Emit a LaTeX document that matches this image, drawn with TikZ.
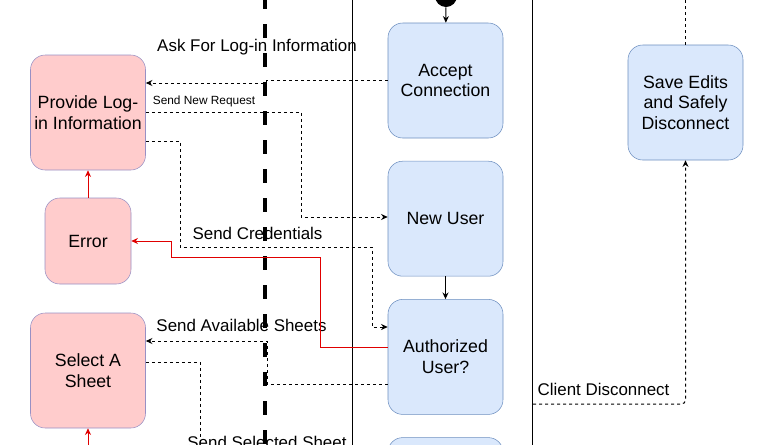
\documentclass[tikz,border=0pt]{standalone}
\usepackage{fontspec}
\setmainfont{Liberation Sans}
\usetikzlibrary{arrows.meta,positioning}
\definecolor{Blush}{HTML}{FFCCCC}
\definecolor{Lilac}{HTML}{9890C4}
\definecolor{Sky}{HTML}{DAE8FC}
\definecolor{Steel}{HTML}{6C8EBF}
\definecolor{Alarm}{HTML}{E00000}

\begin{document}
\begin{tikzpicture}[x=.75pt,y=-.75pt,node distance=17pt,
client/.style={draw=Lilac,fill=Blush,rounded corners=11pt,align=center,minimum width=86.25pt,minimum height=86.25pt,inner sep=2pt,font=\fontsize{13.3}{15.5}\selectfont},
server/.style={client,draw=Steel,fill=Sky},
note/.style={inner sep=0pt,font=\fontsize{12.7}{15}\selectfont},
flow/.style={-{Stealth[length=5pt,width=4.5pt]},line width=.75pt},
msg/.style={flow,dash pattern=on 2.25pt off 2.25pt},
alarm/.style={flow,draw=Alarm,color=Alarm}]
\clip (0,0) rectangle (774,444);
% lanes
\draw[line width=3.4pt,dash pattern=on 10.5pt off 11.25pt] (265,-5) -- (265,460);
\draw[line width=.75pt] (352,-5) -- (352,460);
\draw[line width=.75pt] (532,-5) -- (532,460);
% client side
\node[client](provide) at (88,112.5){Provide Log-\\in Information};
\node[client,minimum width=64.5pt,minimum height=64.5pt](error) at (88,241){Error};
\node[client](select) at (88,370.5){Select A\\Sheet};
% server side
\node[circle,fill=black,minimum size=16.5pt,inner sep=0pt](start) at (446,-4){};
\node[server](accept) at (445.5,80.5){Accept\\Connection};
\node[server,below=of accept](newuser){New User};
\node[server,below=of newuser](authorized){Authorized\\User?};
\node[server,below=of authorized](nextstep){};
\node[server](save) at (685.5,102.5){Save Edits\\and Safely\\Disconnect};
\coordinate(exitcd) at (533,404);
\coordinate(saveup) at (685.5,-10);
\coordinate(errorin) at (88,460);
\coordinate(selectout) at (200,460);
% labels
\node[note](asklbl) at (257,47){Ask For Log-in Information};
\node[note,font=\fontsize{8.9}{10}\selectfont](newlbl) at (204,101){Send New Request};
\node[note](credlbl) at (257.5,233){Send Credentials};
\node[note](availlbl) at (241.5,325){Send Available Sheets};
\node[note](sellbl) at (267,442){Send Selected Sheet};
\node[note](cdlbl) at (603.5,389){Client Disconnect};
% connectors
\draw[flow](start)--(accept);\draw[flow](newuser)--(authorized);
\draw[alarm](error)--(provide);\draw[alarm](errorin)--(select);
\draw[msg](accept.west) -- (266,80.5) -- (266,83) -- (provide.east |- 0,83);
\draw[msg](provide.east |- 0,112) -- (301,112) -- (301,217) -- (newuser.west |- 0,217);
\draw[msg](provide.east |- 0,141) -- (180,141) -- (180,247) -- (372,247) -- (372,327) -- (authorized.west |- 0,327);
\draw[alarm](authorized.west |- 0,347) -- (320,347) -- (320,257) -- (171,257) -- (171,241) -- (error.east);
\draw[msg](authorized.west |- 0,384) -- (267,384) -- (267,341) -- (select.east |- 0,341);
\draw[msg,-](select.east |- 0,362) -- (200,362) -- (selectout);
\draw[msg,rounded corners=3pt](exitcd) -| (save.south);
\draw[msg,-](save.north) -- (saveup);
\end{tikzpicture}
\end{document}
